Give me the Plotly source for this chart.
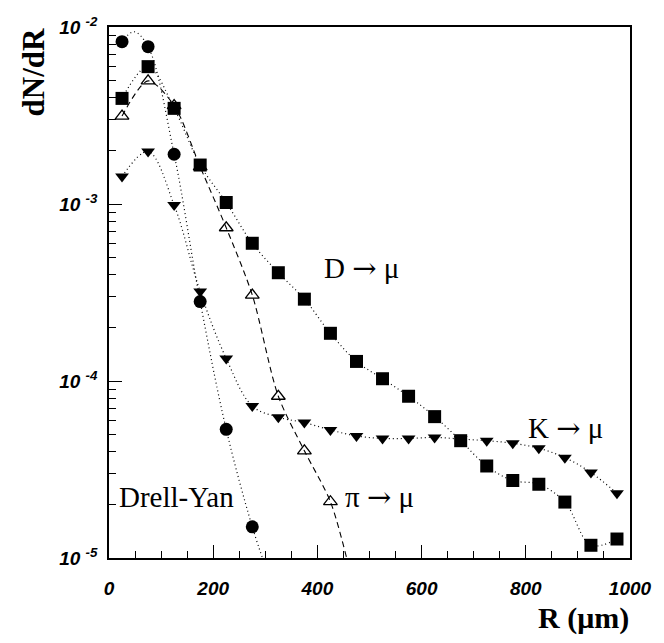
import plotly.graph_objects as go

# ---- data ----
R_bins = [25, 75, 125, 175, 225, 275, 325, 375, 425, 475, 525, 575, 625, 675, 725, 775, 825, 875, 925, 975]

dy_R = [25, 75, 125, 175, 225, 275]
dy_vals = [8.26e-3, 7.74e-3, 1.91e-3, 2.81e-4, 5.33e-5, 1.50e-5]

pi_R = [25, 75, 125, 175, 225, 275, 325, 375, 425]
pi_vals = [3.14e-3, 4.96e-3, 3.60e-3, 1.62e-3, 7.34e-4, 3.06e-4, 8.2e-5, 4.03e-5, 2.08e-5]

d_R = R_bins
d_vals = [3.95e-3, 5.97e-3, 3.47e-3, 1.66e-3, 1.02e-3, 6.0e-4, 4.09e-4, 2.90e-4, 1.86e-4, 1.29e-4,
          1.03e-4, 8.2e-5, 6.29e-5, 4.6e-5, 3.31e-5, 2.74e-5, 2.61e-5, 2.07e-5, 1.18e-5, 1.28e-5]

k_R = R_bins
k_vals = [1.43e-3, 1.98e-3, 9.87e-4, 3.2e-4, 1.34e-4, 7.22e-5, 6.24e-5, 5.82e-5, 5.29e-5, 4.89e-5,
          4.74e-5, 4.74e-5, 4.80e-5, 4.70e-5, 4.60e-5, 4.45e-5, 4.17e-5, 3.69e-5, 3.04e-5, 2.32e-5]

# fitted curves
dy_fit_R = [25, 48, 75, 125, 175, 225, 275, 300]
dy_fit_vals = [8.26e-3, 9.4e-3, 7.74e-3, 1.91e-3, 2.81e-4, 5.33e-5, 1.50e-5, 0.9e-5]
pi_fit_R = [25, 75, 125, 175, 225, 275, 325, 375, 425, 460]
pi_fit_vals = [3.14e-3, 4.96e-3, 3.60e-3, 1.62e-3, 7.34e-4, 3.06e-4, 8.2e-5, 4.03e-5, 2.08e-5, 0.9e-5]

x_ticks = [0, 200, 400, 600, 800, 1000]
x_minor = [v for v in range(50, 1000, 50) if v % 200 != 0]
y_ticks = [1e-5, 1e-4, 1e-3, 1e-2]
y_ticktext = ["10&#160;<sup>-5</sup>", "10&#160;<sup>-4</sup>", "10&#160;<sup>-3</sup>", "10&#160;<sup>-2</sup>"]
y_minor = [m * 10.0 ** e for e in (-5, -4, -3) for m in range(2, 10)]

BLACK = "black"
dotted = dict(color=BLACK, width=1.2, dash="1px,3px", shape="spline", smoothing=1.0)

fig = go.Figure()

# curves
fig.add_trace(go.Scatter(x=dy_fit_R, y=dy_fit_vals, mode="lines", line=dotted, hoverinfo="skip"))
fig.add_trace(go.Scatter(x=pi_fit_R, y=pi_fit_vals, mode="lines",
                         line=dict(color=BLACK, width=1.1, dash="6px,4px", shape="spline", smoothing=0.8),
                         hoverinfo="skip"))
fig.add_trace(go.Scatter(x=d_R, y=d_vals, mode="lines", line=dotted, hoverinfo="skip"))
fig.add_trace(go.Scatter(x=k_R, y=k_vals, mode="lines", line=dotted, hoverinfo="skip"))

# markers
fig.add_trace(go.Scatter(x=pi_R, y=pi_vals, mode="markers",
                         marker=dict(symbol="triangle-up-open", size=12, color=BLACK, line=dict(width=1.3, color=BLACK)),
                         name="pi"))
fig.add_trace(go.Scatter(x=k_R, y=k_vals, mode="markers",
                         marker=dict(symbol="triangle-down", size=12, color=BLACK, line=dict(width=0)),
                         name="K"))
fig.add_trace(go.Scatter(x=d_R, y=d_vals, mode="markers",
                         marker=dict(symbol="square", size=13, color=BLACK, line=dict(width=0)),
                         name="D"))
fig.add_trace(go.Scatter(x=dy_R, y=dy_vals, mode="markers",
                         marker=dict(symbol="circle", size=13, color=BLACK, line=dict(width=0)),
                         name="DY"))

tickfont = dict(family="Liberation Sans, Arial, sans-serif", size=19, color=BLACK, weight="bold", style="italic")

fig.update_layout(
    width=664, height=643,
    margin=dict(l=109, r=24, t=27, b=85),
    paper_bgcolor="white", plot_bgcolor="white",
    showlegend=False,
    xaxis=dict(range=[0, 1000], tickvals=x_ticks, ticktext=[str(v) for v in x_ticks],
               ticks="inside", ticklen=13, tickwidth=1, tickcolor=BLACK,
               showline=True, linecolor=BLACK, linewidth=1.5, mirror=True,
               showgrid=False, zeroline=False, tickfont=tickfont, ticklabelstandoff=12,
               minor=dict(tickvals=x_minor, ticks="inside", ticklen=7, tickwidth=1, tickcolor=BLACK, showgrid=False)),
    yaxis=dict(type="log", range=[-5, -2], tickvals=y_ticks, ticktext=y_ticktext,
               ticks="inside", ticklen=13, tickwidth=1, tickcolor=BLACK,
               showline=True, linecolor=BLACK, linewidth=1.5, mirror=True,
               showgrid=False, zeroline=False, tickfont=tickfont, ticklabelstandoff=6,
               minor=dict(tickvals=y_minor, ticks="inside", ticklen=7, tickwidth=1, tickcolor=BLACK, showgrid=False)),
)

serif = "Liberation Serif, Times New Roman, serif"
arrow = '<span style="font-family:DejaVu Serif">→</span>'
annots = [
    dict(text="D " + arrow + " μ", x=484, y=-3.36, size=29),
    dict(text="K " + arrow + " μ", x=877, y=-4.265, size=29),
    dict(text="π " + arrow + " μ", x=520, y=-4.655, size=29),
    dict(text="Drell-Yan", x=130, y=-4.655, size=29),
]
for a in annots:
    fig.add_annotation(x=a["x"], y=a["y"], xref="x", yref="y", text=a["text"], showarrow=False,
                       font=dict(family=serif, size=a["size"], color=BLACK))

plot_w = 664 - 109 - 24
plot_h = 643 - 27 - 85
fig.add_annotation(x=(32 - 109) / plot_w, y=(643 - 85 - 72) / plot_h, xref="paper", yref="paper",
                   xanchor="center", yanchor="middle", text="<b>dN/dR</b>", showarrow=False,
                   textangle=-90, font=dict(family=serif, size=31, color=BLACK))
fig.add_annotation(text="<b>R (μm)</b>", showarrow=False, font=dict(family=serif, size=30, color=BLACK),
                   xref="paper", yref="paper", x=(641 - 109) / plot_w, y=(643 - 85 - 618) / plot_h,
                   xanchor="right", yanchor="middle")

fig.write_html("out.html")
